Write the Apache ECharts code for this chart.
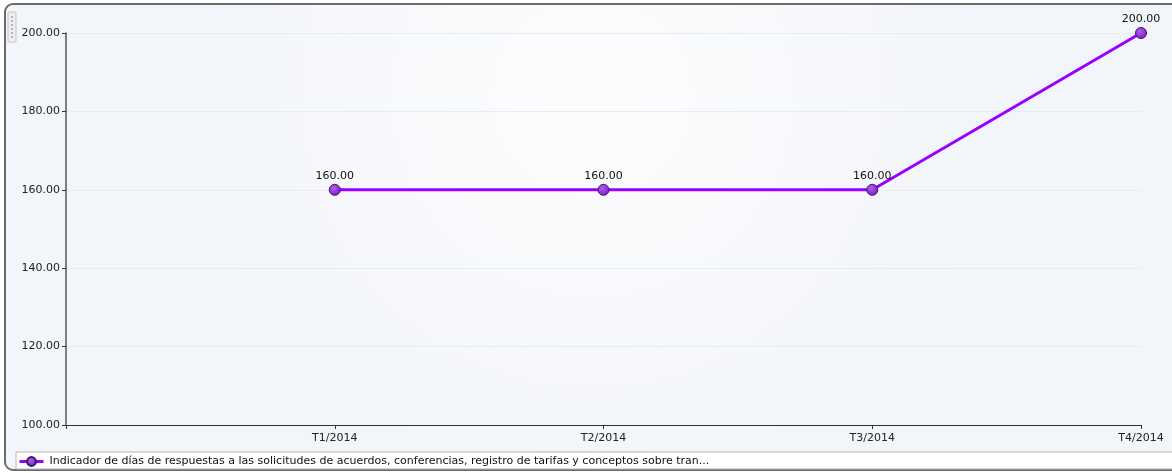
<!DOCTYPE html>
<html>
<head>
<meta charset="utf-8">
<script src="https://cdn.jsdelivr.net/npm/echarts@6/dist/echarts.min.js"></script>
<style>
  html, body { margin: 0; padding: 0; background: #ffffff; }
  #chart { width: 1172px; height: 473px; }
</style>
</head>
<body>
<div id="chart"></div>
<script>
// Quarterly indicator values
const categories = ['T1/2014', 'T2/2014', 'T3/2014', 'T4/2014'];
const seriesName = 'Indicador de días de respuestas a las solicitudes de acuerdos, conferencias, registro de tarifas y conceptos sobre tran...';
const values = [160, 160, 160, 200];
const yTicks = [100, 120, 140, 160, 180, 200];

const chart = echarts.init(document.getElementById('chart'));

// Categories sit at positions 1..4 on a numeric axis starting at 0
const points = values.map((v, i) => [i + 1, v]);

const font = 'DejaVu Sans, Verdana, sans-serif';

chart.setOption({
  animation: false,
  backgroundColor: 'transparent',
  graphic: [
    {
      type: 'rect', z: -10, silent: true,
      shape: { x: 5, y: 4, width: 1175, height: 466, r: [8, 0, 0, 8] },
      style: {
        fill: new echarts.graphic.RadialGradient(0.5, 0.2, 0.85, [
          { offset: 0, color: '#fdfdfe' },
          { offset: 1, color: '#f2f5f9' }
        ]),
        stroke: '#6b6b6b', lineWidth: 2
      }
    },
    {
      type: 'rect', z: -9, silent: true,
      shape: { x: 16, y: 452, width: 1160, height: 17 },
      style: { fill: '#ffffff', stroke: '#b5b5b5', lineWidth: 1 }
    },
    {
      type: 'rect', z: -8, silent: true,
      shape: { x: 8, y: 12, width: 8, height: 30, r: 1 },
      style: { fill: '#eceef0', stroke: '#c4c7ca', lineWidth: 1 }
    },
    ...[0, 1, 2, 3, 4, 5].map(k => ({
      type: 'rect', z: -7, silent: true,
      shape: { x: 11, y: 16 + k * 4, width: 2, height: 2 },
      style: { fill: '#b0b4b8' }
    }))
  ],
  grid: { left: 66, right: 31, top: 33, bottom: 48, containLabel: false },
  xAxis: {
    type: 'value',
    min: 0, max: categories.length, interval: 1,
    axisLine: { show: true, onZero: false, lineStyle: { color: '#333333', width: 1 } },
    axisTick: { show: true, length: 4, lineStyle: { color: '#333333' } },
    splitLine: { show: false },
    axisLabel: {
      color: '#222222', fontFamily: font, fontSize: 11, margin: 8,
      formatter: v => (v >= 1 && v <= categories.length) ? categories[v - 1] : ''
    }
  },
  yAxis: {
    type: 'value',
    min: yTicks[0], max: yTicks[yTicks.length - 1], interval: 20,
    axisLine: { show: true, lineStyle: { color: '#555555', width: 1.5 } },
    axisTick: { show: true, length: 4, inside: false, lineStyle: { color: '#333333' } },
    splitLine: { show: true, lineStyle: { color: '#e8ecf0', width: 1 } },
    axisLabel: {
      color: '#222222', fontFamily: font, fontSize: 11, margin: 6,
      formatter: v => v.toFixed(2)
    }
  },
  legend: {
    left: 18, top: 456, padding: 0, itemWidth: 24, itemHeight: 11, itemGap: 4,
    textStyle: { color: '#111111', fontFamily: font, fontSize: 11, padding: [0, 0, 0, 1] },
    lineStyle: { width: 3 },
    data: [seriesName]
  },
  series: [{
    name: seriesName,
    type: 'line',
    data: points,
    symbol: 'circle',
    symbolSize: 11,
    lineStyle: { color: '#9900ff', width: 3 },
    itemStyle: {
      color: new echarts.graphic.RadialGradient(0.4, 0.35, 0.7, [
        { offset: 0, color: '#b35cf0' },
        { offset: 1, color: '#7a16c8' }
      ]),
      borderColor: '#3d1a60', borderWidth: 1
    },
    label: {
      show: true, position: 'top', distance: 2,
      color: '#111111', fontFamily: font, fontSize: 11,
      formatter: p => p.value[1].toFixed(2)
    },
    z: 5
  }]
});
</script>
</body>
</html>
